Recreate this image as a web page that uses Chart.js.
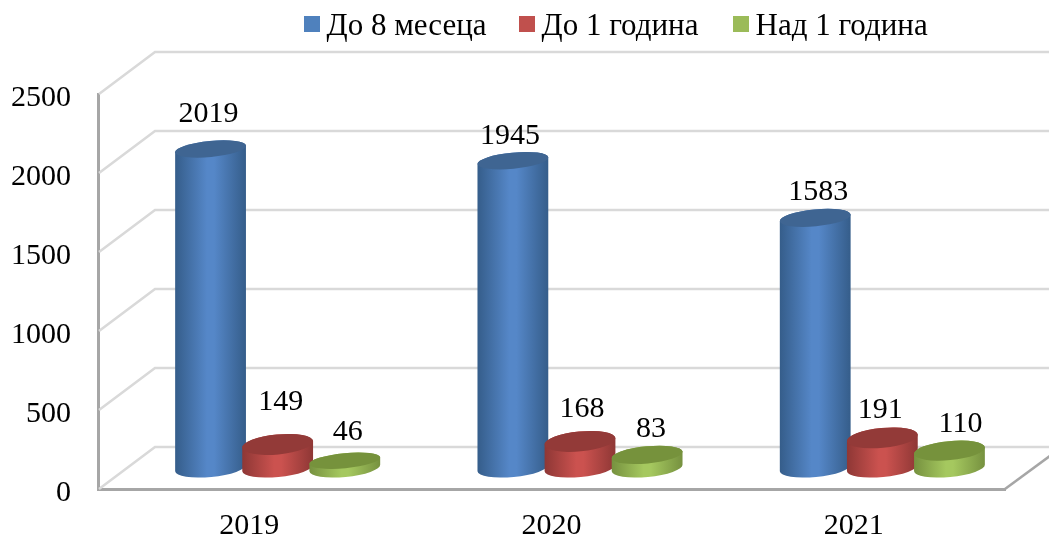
<!DOCTYPE html>
<html>
<head>
<meta charset="utf-8">
<script src="https://cdn.jsdelivr.net/npm/chart.js@4/dist/chart.umd.min.js"></script>
<style>
  html, body { margin: 0; padding: 0; background: #fff; }
  canvas { display: block; }
</style>
</head>
<body>
<canvas id="chart" width="1049" height="537"></canvas>
<script>
const categories = ['2019', '2020', '2021'];
const seriesNames = ['До 8 месеца', 'До 1 година', 'Над 1 година'];
const upTo8Months = [2019, 1945, 1583];
const upTo1Year = [149, 168, 191];
const over1Year = [46, 83, 110];
const yTicks = [0, 500, 1000, 1500, 2000, 2500];

const FONT = '"Liberation Serif", "Times New Roman", serif';
const DEPTH_X = 57;
const DEPTH_Y = 42;
// side gradient edge, side gradient centre, top face
const shades = [
  ['#355d8a', '#5587c8', '#3f6592'],
  ['#8e3735', '#cb524f', '#933a38'],
  ['#76913f', '#a5c85f', '#76923c'],
];
const legendColors = ['#4f81bd', '#c0504d', '#9bbb59'];
const legendX = [304, 519, 733];
// hand placed labels in the original, [dx, dy] from the centre of the top face
const labelNudge = [
  [[-2, -35], [3, -42], [3, -29]],
  [[-3, -25], [2, -32], [4, -26]],
  [[3, -26], [-2, -28], [11, -26]],
];

function drawCylinder(ctx, x, top, base, rx, colors) {
  const rot = -0.095;
  const height = base - top;
  const ry = Math.min(10, 8 + (top - 150) / 150, 6 + height * 0.2);
  const sx = rx * Math.cos(rot);
  const sy = rx * Math.sin(rot);

  const grad = ctx.createLinearGradient(x - rx, 0, x + rx, 0);
  grad.addColorStop(0, colors[0]);
  grad.addColorStop(0.45, colors[1]);
  grad.addColorStop(0.55, colors[1]);
  grad.addColorStop(1, colors[0]);

  ctx.fillStyle = grad;
  ctx.beginPath();
  ctx.ellipse(x, base, rx, 9, rot, Math.PI, 0, true);
  ctx.lineTo(x + sx, top + sy);
  ctx.ellipse(x, top, rx, ry, rot, 0, Math.PI, true);
  ctx.closePath();
  ctx.fill();

  ctx.fillStyle = colors[2];
  ctx.beginPath();
  ctx.ellipse(x, top, rx, ry, rot, 0, Math.PI * 2);
  ctx.fill();
}

const cylinders3d = {
  id: 'cylinders3d',
  beforeDatasetsDraw(chart) {
    const { ctx, chartArea, scales } = chart;
    const { left, right, bottom } = chartArea;

    ctx.save();
    ctx.lineWidth = 2.5;
    ctx.strokeStyle = '#d9d9d9';
    for (const value of yTicks) {
      const y = scales.y.getPixelForValue(value);
      ctx.beginPath();
      ctx.moveTo(left + 1, y);
      ctx.lineTo(left + DEPTH_X, y - DEPTH_Y);
      ctx.lineTo(chart.width, y - DEPTH_Y);
      ctx.stroke();
    }
    ctx.strokeStyle = '#a6a6a6';
    ctx.beginPath();
    ctx.moveTo(right, bottom);
    ctx.lineTo(right + DEPTH_X, bottom - DEPTH_Y);
    ctx.stroke();

    const rows = chart.data.datasets.map((_, i) => chart.getDatasetMeta(i).data);
    categories.forEach((_, c) => {
      rows.forEach((bars, s) => {
        const bar = bars[c];
        const x = bar.x + DEPTH_X / 2;
        const top = bar.y - DEPTH_Y / 2;
        drawCylinder(ctx, x, top, bar.base - DEPTH_Y / 2, bar.width / 2 + 2, shades[s]);
      });
    });

    ctx.fillStyle = '#000';
    ctx.font = `30px ${FONT}`;
    ctx.textAlign = 'center';
    ctx.textBaseline = 'middle';
    chart.data.datasets.forEach((ds, s) => {
      rows[s].forEach((bar, c) => {
        const [dx, dy] = labelNudge[c][s];
        ctx.fillText(ds.data[c], bar.x + DEPTH_X / 2 + dx, bar.y - DEPTH_Y / 2 + dy);
      });
    });

    ctx.font = `31px ${FONT}`;
    ctx.textAlign = 'left';
    seriesNames.forEach((name, s) => {
      ctx.fillStyle = legendColors[s];
      ctx.fillRect(legendX[s], 16, 16, 16);
      ctx.fillStyle = '#000';
      ctx.fillText(name, legendX[s] + 22.5, 27);
    });
    ctx.restore();
    return false;
  },
};

new Chart(document.getElementById('chart'), {
  type: 'bar',
  data: {
    labels: categories,
    datasets: [
      { label: seriesNames[0], data: upTo8Months, backgroundColor: legendColors[0] },
      { label: seriesNames[1], data: upTo1Year, backgroundColor: legendColors[1] },
      { label: seriesNames[2], data: over1Year, backgroundColor: legendColors[2] },
    ],
  },
  plugins: [cylinders3d],
  options: {
    responsive: false,
    animation: false,
    layout: { padding: { top: 94, right: 44, bottom: 0, left: 0 } },
    datasets: { bar: { categoryPercentage: 0.666, barPercentage: 1 } },
    plugins: { legend: { display: false }, tooltip: { enabled: false } },
    scales: {
      x: {
        afterFit: (scale) => { scale.height = 48; },
        grid: { display: false },
        border: { color: '#a6a6a6', width: 3 },
        ticks: { color: '#000', font: { family: FONT, size: 30 }, padding: 11 },
      },
      y: {
        min: 0,
        max: 2500,
        afterFit: (scale) => { scale.width = 98; },
        grid: { display: false },
        border: { color: '#a6a6a6', width: 3 },
        afterBuildTicks: (scale) => { scale.ticks = yTicks.map((value) => ({ value })); },
        ticks: {
          color: '#000',
          font: { family: FONT, size: 30 },
          padding: 19,
          labelOffset: 4,
          callback: (value) => String(value),
        },
      },
    },
  },
});
</script>
</body>
</html>
